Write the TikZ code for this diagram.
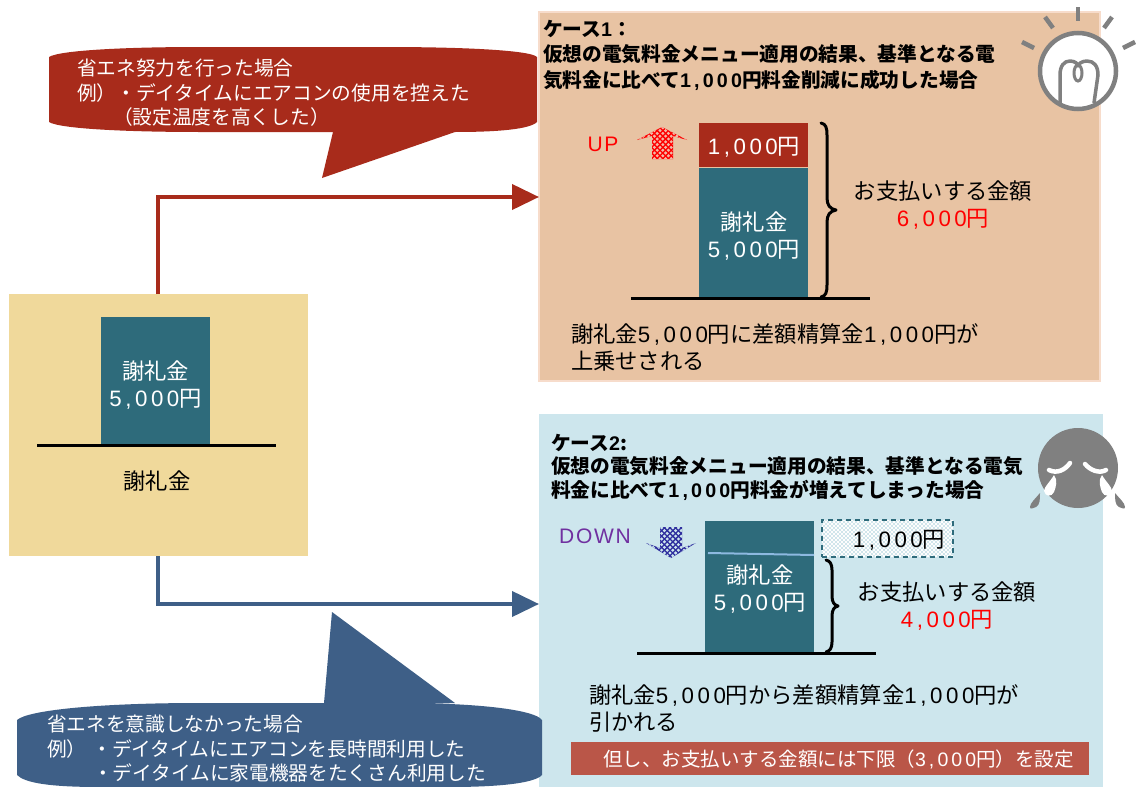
\documentclass[tikz,border=0pt]{standalone}
\usepackage{fontspec}
\setmainfont{Noto Sans CJK JP}
\newfontfamily\lat[LetterSpace=16]{Liberation Sans}
\newfontfamily\latb[LetterSpace=8]{Liberation Sans}
\newcommand{\nm}[1]{{\lat #1}}
\usetikzlibrary{arrows.meta}
\definecolor{crimson}{HTML}{A82B1B}
\definecolor{navyb}{HTML}{3E5F87}
\definecolor{tealb}{HTML}{2E6B7B}
\definecolor{sand}{HTML}{F0D99B}
\definecolor{peach}{HTML}{E8C3A3}
\definecolor{peachedge}{HTML}{F7DCCB}
\definecolor{pale}{HTML}{CDE6ED}
\definecolor{brick}{HTML}{BA5648}
\definecolor{iconGray}{HTML}{808080}
\definecolor{purp}{HTML}{7030A0}
\definecolor{levelline}{HTML}{8DB9E0}
\definecolor{uphole}{HTML}{F2B8A6}
\definecolor{downfill}{HTML}{2E2E9E}
\tikzset{
  x=1pt,y=-1pt,
  box/.style={anchor=north west,inner sep=0pt,outer sep=0pt,draw=none},
  lbl/.style={inner sep=0pt,outer sep=0pt,align=center,font=\fontsize{22.3}{27}\selectfont},
  wlbl/.style={lbl,text=white},
  tit/.style={inner sep=0pt,outer sep=0pt,anchor=west,align=left,text=black},
  note/.style={inner sep=0pt,outer sep=0pt,anchor=west,align=left,font=\fontsize{22.3}{27}\selectfont},
  call/.style={inner sep=0pt,outer sep=0pt,anchor=west,align=left,text=white,font=\fontsize{19.7}{24.5}\selectfont},
  ground/.style={black,line width=3pt},
  bracket/.style={black,line width=3pt,line cap=round,line join=round},
  flow/.style={line width=4pt,-{Triangle[length=27pt,width=25pt]}},
  ray/.style={iconGray,line width=4.5pt},
}
\begin{document}
\begin{tikzpicture}
\useasboundingbox (0,0) rectangle (1136,787);
\fill[white] (0,0) rectangle (1136,787);

% case panels
\node[box,fill=peach,draw=peachedge,line width=2pt,minimum width=561pt,minimum height=369pt] (caseA) at (539,12) {};
\node[box,fill=pale,minimum width=564pt,minimum height=373pt] (caseB) at (539,414) {};

% left panel
\node[box,fill=sand,minimum width=299pt,minimum height=262pt] (lbox) at (9,294) {};
\node[box,fill=tealb,minimum width=109pt,minimum height=128pt] (lbar) at (101,317) {};
\node[wlbl] (ltxt) at (155.5,385) {謝礼金\\\nm{5,000}円};
\coordinate (lg1) at (37,445); \coordinate (lg2) at (276,445);
\draw[ground] (lg1) -- (lg2);
\node[lbl] (lcap) at (157,481) {謝礼金};

% connectors
\coordinate (bendR) at (158,197);
\coordinate (bendB) at (158,604);
\draw[flow,crimson] (lbox.north -| bendR) -- (bendR) -- (bendR -| caseA.west);
\draw[flow,navyb] (lbox.south -| bendB) -- (bendB) -- (bendB -| caseB.west);

% red callout
\fill[crimson] (49,57) .. controls (60,50) and (130,47) .. (200,47) -- (385,47)
  .. controls (460,47) and (530,50) .. (537,57) -- (537,122)
  .. controls (530,129) and (500,132) .. (455,132) -- (322,178) -- (333,132) -- (200,132)
  .. controls (130,132) and (60,129) .. (49,122) -- cycle;
\node[call] (ctop) at (77,93) {省エネ努力を行った場合\\例）・デイタイムにエアコンの使用を控えた\\\hspace{36pt}（設定温度を高くした）};

% blue callout
\fill[navyb] (17,720) .. controls (28,710) and (100,703) .. (200,703) -- (324,703) -- (332,612) -- (455,703)
  -- (400,703) .. controls (480,703) and (535,710) .. (542,720) -- (542,775)
  .. controls (535,783) and (500,787) .. (450,787) -- (100,787) .. controls (50,787) and (25,783) .. (17,775) -- cycle;
\node[call] (cbot) at (47,749) {省エネを意識しなかった場合\\例）\hspace{6pt}・デイタイムにエアコンを長時間利用した\\\hspace{46pt}・デイタイムに家電機器をたくさん利用した};

% case 1
\node[tit,font=\fontsize{19.7}{25.5}\selectfont\bfseries] (t1) at (543,55) {ケース\nm{1}：\\仮想の電気料金メニュー適用の結果、基準となる電\\気料金に比べて\nm{1,000}円料金削減に成功した場合};
\node[box,fill=crimson,minimum width=109pt,minimum height=44pt] (upbar) at (699,123) {};
\node[box,fill=tealb,minimum width=109pt,minimum height=130pt] (basebar) at (699,168) {};
\node[wlbl] (uptxt) at (754,147) {\nm{1,000}円};
\node[wlbl] (basetxt) at (754,236) {謝礼金\\\nm{5,000}円};
\coordinate (g1a) at (631,298); \coordinate (g1b) at (870,298);
\draw[ground] (g1a) -- (g1b);
\draw[bracket] (821,123) .. controls (826,124) and (827,128) .. (827,135) -- (827,198)
  .. controls (827,205) and (830,209) .. (836,210) .. controls (830,211) and (827,215) .. (827,222)
  -- (827,285) .. controls (827,292) and (826,296) .. (821,297);
\node[lbl] (pay1) at (943,205) {お支払いする金額\\\textcolor{red}{\nm{6,000}円}};
\node[note] (n1) at (571,347.5) {謝礼金\nm{5,000}円に差額精算金\nm{1,000}円が\\上乗せされる};
\node[inner sep=0pt,outer sep=0pt,anchor=center,text=red,font=\fontsize{21}{24}\selectfont] (uplab) at (603,144) {{\latb UP}};

% up arrow
\begin{scope}
\clip (662,127) -- (687,140) -- (673,136) -- (673,159) -- (652,159) -- (652,136) -- (637,140) -- cycle;
\fill[red] (630,120) rectangle (695,165);
\foreach \i in {0,...,13}{\foreach \j in {0,...,16}{
  \pgfmathsetmacro{\px}{632+\i*5.6+mod(\j,2)*2.8}
  \pgfmathsetmacro{\py}{125+\j*2.8}
  \fill[uphole] (\px,\py) circle (1.65);
}}
\end{scope}

% case 2
\node[tit,font=\fontsize{19.7}{23.5}\selectfont\bfseries] (t2) at (551,467) {ケース\nm{2}:\\仮想の電気料金メニュー適用の結果、基準となる電気\\料金に比べて\nm{1,000}円料金が増えてしまった場合};
\node[box,fill=tealb,minimum width=109pt,minimum height=132pt] (bar2) at (705,521) {};
\coordinate (lvA) at (708,553); \coordinate (lvB) at (814,555);
\draw[color=levelline,line width=2pt] (lvA) -- (lvB);
\node[wlbl] (bar2txt) at (760,589) {謝礼金\\\nm{5,000}円};

% dashed check box
\begin{scope}
\clip (822,520) rectangle (953,557);
\fill[white] (822,520) rectangle (953,557);
\foreach \i in {0,...,32}{\foreach \j in {0,...,18}{
  \pgfmathsetmacro{\px}{822+\i*4+mod(\j,2)*2}
  \pgfmathsetmacro{\py}{520+\j*2}
  \fill[pale!92!tealb] (\px,\py) circle (1.1);
}}
\end{scope}
\node[box,draw=tealb,dashed,line width=1.5pt,minimum width=131pt,minimum height=37pt,dash pattern=on 5pt off 4pt] (dbox) at (822,520) {};
\node[lbl] (dtxt) at (899,540) {\nm{1,000}円};

\node[inner sep=0pt,outer sep=0pt,text=purp,font=\fontsize{21}{24}\selectfont] (downlab) at (595,536) {{\latb DOWN}};
\begin{scope}
\clip (660,527) -- (682,527) -- (682,548) -- (696,543) -- (671,558) -- (646,543) -- (660,548) -- cycle;
\fill[downfill] (640,520) rectangle (700,562);
\foreach \i in {0,...,11}{\foreach \j in {0,...,16}{
  \pgfmathsetmacro{\px}{642+\i*5.6+mod(\j,2)*2.8}
  \pgfmathsetmacro{\py}{525+\j*2.8}
  \fill[pale] (\px,\py) circle (1.65);
}}
\end{scope}

\coordinate (g2a) at (637,653); \coordinate (g2b) at (876,653);
\draw[ground] (g2a) -- (g2b);
\draw[bracket] (826,560) .. controls (830,561) and (832,564) .. (832,570) -- (832,596)
  .. controls (832,602) and (834,605) .. (838,606) .. controls (834,607) and (832,610) .. (832,616)
  -- (832,642) .. controls (832,648) and (830,651) .. (826,652);
\node[lbl] (pay2) at (947,606.5) {お支払いする金額\\\textcolor{red}{\nm{4,000}円}};
\node[note] (n2) at (589,708) {謝礼金\nm{5,000}円から差額精算金\nm{1,000}円が\\引かれる};
\node[box,fill=brick,minimum width=518pt,minimum height=33pt] (limit) at (571,742) {};
\node[inner sep=0pt,outer sep=0pt,text=white,anchor=west,font=\fontsize{19.5}{24}\selectfont] (limtxt) at (603,759) {但し、お支払いする金額には下限（\nm{3,000}円）を設定};

% light bulb icon
\draw[ray] (1078,7) -- (1078,21);
\draw[ray] (1045,17) -- (1053,28);
\draw[ray] (1112,17) -- (1104,28);
\draw[ray] (1022,42) -- (1034,48);
\draw[ray] (1135,42) -- (1123,48);
\draw[iconGray,fill=white,line width=4.5pt] (1078,71) circle (38);
\draw[iconGray,line width=3.5pt,line join=round] (1060,103) -- (1060,75)
  .. controls (1060,66) and (1064,61) .. (1070,61) .. controls (1075,61) and (1078,64) .. (1078,66)
  .. controls (1078,64) and (1082,61) .. (1087,61) .. controls (1094,61) and (1098,66) .. (1098,75) -- (1094,103);
\draw[iconGray,line width=3pt] (1078,73) ellipse (4 and 8);

% crying face icon
\fill[iconGray] (1078,468) circle (40);
\fill[iconGray] (1040,493) .. controls (1036,498) and (1030,503) .. (1030,507) .. controls (1030,510) and (1033,508) .. (1036,507) .. controls (1040,505) and (1040,499) .. (1040,493) -- cycle;
\fill[iconGray] (1115,493) .. controls (1119,498) and (1125,503) .. (1125,507) .. controls (1125,510) and (1122,508) .. (1119,507) .. controls (1115,505) and (1115,499) .. (1115,493) -- cycle;
\draw[white,line width=4.5pt,line cap=round] (1049,470) .. controls (1057,474) and (1065,470) .. (1070,463);
\draw[white,line width=4.5pt,line cap=round] (1085,464) .. controls (1090,470) and (1099,474) .. (1106,470);
\fill[white] (1054,475) .. controls (1050,482) and (1044,487) .. (1044,491) .. controls (1045,497) and (1052,497) .. (1054,492) .. controls (1056,487) and (1058,480) .. (1054,475) -- cycle;
\fill[white] (1102,475) .. controls (1106,482) and (1112,487) .. (1112,491) .. controls (1111,497) and (1104,497) .. (1102,492) .. controls (1100,487) and (1098,480) .. (1102,475) -- cycle;
\end{tikzpicture}
\end{document}
